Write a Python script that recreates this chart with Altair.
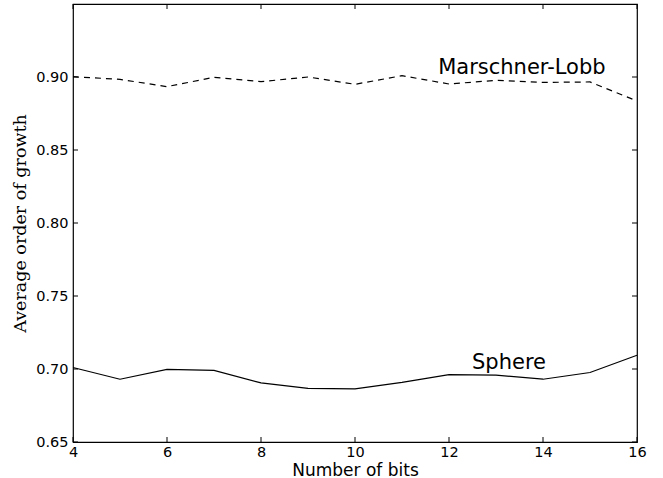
import altair as alt
import pandas as pd

bits = [4, 5, 6, 7, 8, 9, 10, 11, 12, 13, 14, 15, 16]
marschner = [0.9002, 0.8984, 0.8934, 0.8998, 0.8968, 0.9000, 0.8950, 0.9009, 0.8952, 0.8977, 0.8963, 0.8966, 0.8836]
sphere = [0.7010, 0.6930, 0.6997, 0.6990, 0.6905, 0.6867, 0.6864, 0.6908, 0.6962, 0.6958, 0.6930, 0.6976, 0.7094]
x_ticks = [4, 6, 8, 10, 12, 14, 16]
y_ticks = [0.65, 0.70, 0.75, 0.80, 0.85, 0.90]
labels = ["Marschner-Lobb", "Sphere"]
label_x = [11.77, 12.49]
label_y = [0.9020, 0.6999]

W, H = 564, 438
FONT = "DejaVu Sans"

df_m = pd.DataFrame({"bits": bits, "v": marschner})
df_s = pd.DataFrame({"bits": bits, "v": sphere})
df_lab = pd.DataFrame({"bits": label_x, "v": label_y, "t": labels})
df_xt = pd.DataFrame({"xt": x_ticks})
df_yt = pd.DataFrame({"yt": y_ticks})

xscale = alt.Scale(domain=[4, 16], nice=False, zero=False)
yscale = alt.Scale(domain=[0.65, 0.95], nice=False, zero=False)

xaxis = alt.Axis(values=x_ticks, domain=False, ticks=False, grid=False,
                 labelFont=FONT, labelFontSize=14.5, labelColor="black", labelPadding=3,
                 labelFlush=False,
                 title="Number of bits", titleFont=FONT, titleFontSize=17,
                 titleFontWeight="normal", titleColor="black",
                 titleX=W / 2, titleY=28, titleBaseline="middle", titleAlign="center")
yaxis = alt.Axis(values=y_ticks, format=".2f", domain=False, ticks=False, grid=False,
                 labelFont=FONT, labelFontSize=14.5, labelColor="black", labelPadding=5,
                 labelFlush=False,
                 title="Average order of growth", titleFont="DejaVu Serif", titleFontSize=17.5,
                 titleFontWeight="normal", titleColor="black",
                 titleX=-53, titleY=219, titleAngle=-90, titleBaseline="middle", titleAlign="center")

base_x = alt.X("bits:Q", scale=xscale, axis=xaxis)
base_y = alt.Y("v:Q", scale=yscale, axis=yaxis)

line_m = alt.Chart(df_m).mark_line(color="black", strokeWidth=1.2, strokeDash=[6, 5]).encode(x=base_x, y=base_y)
line_s = alt.Chart(df_s).mark_line(color="black", strokeWidth=1.2).encode(x="bits:Q", y="v:Q")

text = alt.Chart(df_lab).mark_text(font=FONT, fontSize=21, align="left", baseline="alphabetic", color="black").encode(
    x="bits:Q", y="v:Q", text="t:N")

tl = 5
xt_bottom = alt.Chart(df_xt).mark_rule(color="black", strokeWidth=1).encode(
    x="xt:Q", y=alt.value(H), y2=alt.value(H - tl))
xt_top = alt.Chart(df_xt).mark_rule(color="black", strokeWidth=1).encode(
    x="xt:Q", y=alt.value(0), y2=alt.value(tl))
yt_left = alt.Chart(df_yt).mark_rule(color="black", strokeWidth=1).encode(
    y="yt:Q", x=alt.value(0), x2=alt.value(tl))
yt_right = alt.Chart(df_yt).mark_rule(color="black", strokeWidth=1).encode(
    y="yt:Q", x=alt.value(W - tl), x2=alt.value(W))

chart = alt.layer(line_m, line_s, text, xt_bottom, xt_top, yt_left, yt_right).properties(
    width=W, height=H,
    autosize=alt.AutoSizeParams(type="none"),
    padding={"left": 73, "top": 4, "right": 26, "bottom": 36},
    background="white",
).configure_view(stroke="black", strokeWidth=1.2)

chart.save("out.html", embed_options={"renderer": "svg", "actions": False})
